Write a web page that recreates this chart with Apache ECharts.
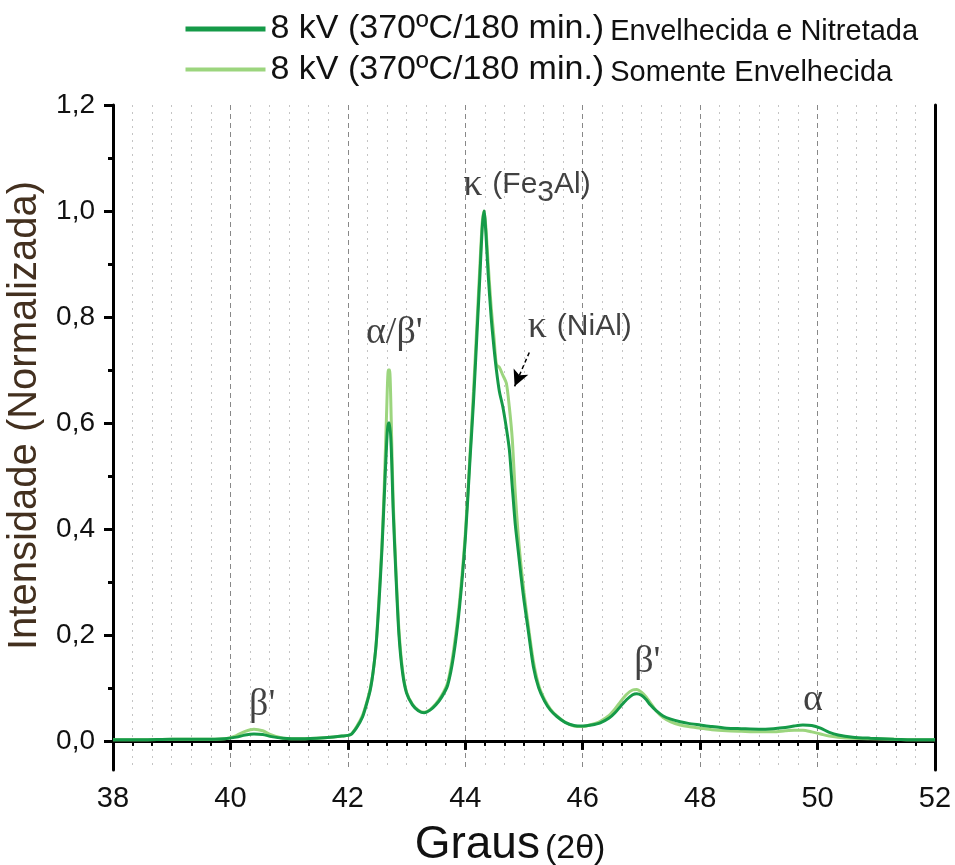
<!DOCTYPE html>
<html>
<head>
<meta charset="utf-8">
<script src="https://cdn.jsdelivr.net/npm/echarts@6/dist/echarts.min.js"></script>
<style>
html,body{margin:0;padding:0;background:#fff;}
#chart{width:955px;height:865px;}
</style>
</head>
<body>
<div id="chart"></div>
<script>
// ---- data ----
const theta = [38.0,38.5,39.0,39.5,39.9,40.1,40.25,40.4,40.55,40.7,40.9,41.2,41.6,41.9,42.05,42.15,42.25,42.32,42.38,42.43,42.48,42.53,42.58,42.62,42.66,42.69,42.71,42.74,42.77,42.82,42.87,42.93,43.0,43.1,43.2,43.3,43.4,43.5,43.6,43.7,43.8,43.9,44.0,44.08,44.14,44.2,44.25,44.29,44.32,44.35,44.39,44.44,44.49,44.53,44.58,44.64,44.70,44.75,44.80,44.85,44.90,44.95,45.0,45.07,45.16,45.25,45.35,45.45,45.56,45.7,45.85,46.0,46.15,46.3,46.45,46.55,46.65,46.75,46.85,46.92,47.0,47.08,47.15,47.25,47.37,47.5,47.66,47.8,48.0,48.2,48.45,48.7,49.0,49.25,49.45,49.6,49.75,49.9,50.05,50.2,50.35,50.6,50.9,51.3,51.7,52.0];
const nitretada = [0.002,0.002,0.003,0.003,0.004,0.007,0.011,0.013,0.012,0.008,0.005,0.004,0.006,0.009,0.012,0.025,0.045,0.07,0.095,0.13,0.18,0.26,0.36,0.46,0.56,0.60,0.60,0.55,0.44,0.31,0.20,0.13,0.09,0.068,0.057,0.053,0.058,0.068,0.083,0.105,0.16,0.25,0.38,0.53,0.64,0.77,0.88,0.97,1.0,0.96,0.88,0.80,0.74,0.70,0.66,0.63,0.59,0.55,0.48,0.41,0.36,0.31,0.265,0.21,0.14,0.10,0.075,0.058,0.046,0.035,0.029,0.028,0.030,0.034,0.043,0.053,0.066,0.078,0.087,0.089,0.086,0.078,0.068,0.057,0.047,0.041,0.036,0.033,0.030,0.027,0.024,0.023,0.022,0.023,0.025,0.028,0.030,0.029,0.024,0.016,0.011,0.007,0.005,0.003,0.002,0.002];
const envelhecida = [0.002,0.002,0.003,0.003,0.004,0.010,0.018,0.022,0.019,0.011,0.005,0.004,0.006,0.009,0.012,0.027,0.048,0.072,0.098,0.13,0.18,0.27,0.37,0.48,0.62,0.70,0.70,0.60,0.46,0.32,0.21,0.135,0.092,0.069,0.058,0.054,0.059,0.070,0.086,0.11,0.17,0.26,0.39,0.54,0.66,0.79,0.90,0.98,1.0,0.97,0.90,0.82,0.76,0.71,0.705,0.69,0.675,0.63,0.57,0.47,0.39,0.33,0.28,0.22,0.15,0.105,0.078,0.06,0.047,0.035,0.028,0.027,0.031,0.037,0.048,0.06,0.075,0.088,0.096,0.097,0.092,0.083,0.072,0.057,0.044,0.036,0.030,0.027,0.024,0.021,0.019,0.018,0.017,0.017,0.019,0.020,0.020,0.017,0.013,0.009,0.007,0.005,0.004,0.003,0.002,0.002];
const seriesNames = ['8 kV (370ºC/180 min.) Envelhecida e Nitretada','8 kV (370ºC/180 min.) Somente Envelhecida'];
const xTicks = [38,40,42,44,46,48,50,52];
const yTicks = [0,0.2,0.4,0.6,0.8,1.0,1.2];
const yMinorTicks = [0.1,0.3,0.5,0.7,0.9,1.1];
const annX = [40.54,42.79,45.05,45.95,47.10,49.92];
const annY = [0.068,0.77,1.049,0.781,0.149,0.077];
const annText = ["{g|β'}","{g|α/β'}","{gs|κ}{s|(Fe}{sub|3}{s|Al)}","{gs|κ}{s|(NiAl)}","{g|β'}","{g|α}"];
const arrowFrom = [45.09,0.733];
const arrowTo = [44.84,0.669];

const DARK = '#159a48';
const LIGHT = '#9cd57e';
const SANS = 'Liberation Sans, Arial, sans-serif';
const SERIF = 'Liberation Serif, Times New Roman, serif';

const pairs = (xs, ys) => xs.map((x, i) => [x, ys[i]]);
const yMin = -0.055, yMax = 1.2;
const fmt = v => v.toFixed(1).replace('.', ',');

const chart = echarts.init(document.getElementById('chart'), null, {renderer: 'canvas'});
const axisLineStyle = {color: '#000', width: 3};

chart.setOption({
  animation: false,
  backgroundColor: '#fff',
  grid: {left: 113, right: 20, top: 105, bottom: 95, containLabel: false, outerBoundsMode: 'none'},
  legend: {
    orient: 'vertical', left: 178, top: 7, itemWidth: 80, itemHeight: 14, itemGap: 6,
    data: [
      {name: seriesNames[0], lineStyle: {width: 5, color: DARK}, itemStyle: {opacity: 0}},
      {name: seriesNames[1], lineStyle: {width: 4, color: LIGHT}, itemStyle: {opacity: 0}}
    ],
    formatter: name => {
      const k = name.indexOf(')') + 1;
      return '{a|' + name.slice(0, k) + '}{b|' + name.slice(k).trim() + '}';
    },
    textStyle: {
      rich: {
        a: {fontFamily: SANS, fontSize: 34, color: '#111', padding: [0, 6, 0, 0]},
        b: {fontFamily: SANS, fontSize: 29, color: '#111', padding: [6, 0, 0, 0]}
      }
    }
  },
  xAxis: [
    {
      type: 'value', min: xTicks[0], max: xTicks[xTicks.length - 1], interval: 2, position: 'bottom',
      axisLine: {lineStyle: axisLineStyle},
      axisTick: {length: 9, lineStyle: {color: '#000', width: 3}},
      minorTick: {show: true, splitNumber: 6, length: 5, lineStyle: {color: '#000', width: 2}},
      splitLine: {show: true, lineStyle: {type: [5, 4], color: '#888', width: 1}},
      minorSplitLine: {show: true, lineStyle: {type: [2, 5], color: '#c4c4c4', width: 1}},
      axisLabel: {fontFamily: SANS, fontSize: 29, color: '#111', margin: 14},
      name: '{a|Graus}{b|(2θ)}', nameLocation: 'middle', nameGap: 52,
      nameTextStyle: {rich: {a: {fontFamily: SANS, fontSize: 46, color: '#111'}, b: {fontFamily: SANS, fontSize: 34, color: '#111', padding: [8, 28, 0, 5]}}}
    },
    {
      type: 'value', min: xTicks[0], max: xTicks[xTicks.length - 1], interval: 2, position: 'top',
      axisLine: {lineStyle: axisLineStyle},
      axisTick: {inside: true, length: 9, lineStyle: {color: '#000', width: 3}},
      minorTick: {show: true, splitNumber: 6, length: 5, lineStyle: {color: '#000', width: 2}},
      splitLine: {show: false}, axisLabel: {show: false}
    }
  ],
  yAxis: [
    {
      type: 'value', min: yMin, max: yMax, position: 'left',
      axisLine: {lineStyle: axisLineStyle},
      axisTick: {length: 9, customValues: yTicks, lineStyle: {color: '#000', width: 3}},
      axisLabel: {customValues: yTicks, formatter: fmt, fontFamily: SANS, fontSize: 28, color: '#111', margin: 18},
      splitLine: {show: false},
      name: 'Intensidade (Normalizada)', nameLocation: 'middle', nameGap: 68,
      nameTextStyle: {fontFamily: SANS, fontSize: 40, color: '#43301f', padding: [0, 0, 0, 44]}
    },
    {
      type: 'value', min: yMin, max: yMax, position: 'left',
      axisLine: {show: false},
      axisTick: {length: 5, customValues: yMinorTicks, lineStyle: {color: '#000', width: 3}},
      axisLabel: {show: false}, splitLine: {show: false}
    },
    {
      type: 'value', min: yMin, max: yMax, position: 'right',
      axisLine: {show: true, lineStyle: axisLineStyle},
      axisTick: {show: false}, axisLabel: {show: false}, splitLine: {show: false}
    }
  ],
  series: [
    {
      name: seriesNames[1], type: 'line', data: pairs(theta, envelhecida),
      showSymbol: false, symbol: 'none', smooth: 0.25, z: 3,
      lineStyle: {color: LIGHT, width: 3}, itemStyle: {color: LIGHT}
    },
    {
      name: seriesNames[0], type: 'line', data: pairs(theta, nitretada),
      showSymbol: false, symbol: 'none', smooth: 0.25, z: 4,
      lineStyle: {color: DARK, width: 3}, itemStyle: {color: DARK},
      markLine: {
        silent: true, symbol: ['none', 'arrow'], symbolSize: [12, 16],
        lineStyle: {color: '#000', type: [4, 3], width: 1.5},
        label: {show: false},
        data: [[{coord: arrowFrom}, {coord: arrowTo}]]
      }
    },
    {
      name: 'annotations', type: 'scatter', symbolSize: 0, silent: true, z: 5,
      data: annX.map((x, i) => ({value: [x, annY[i]], label: {formatter: annText[i]}})),
      label: {
        show: true, position: 'inside', color: '#111',
        rich: {
          g: {fontFamily: SERIF, fontSize: 38, color: '#111'},
          gs: {fontFamily: SERIF, fontSize: 38, color: '#111', padding: [0, 10, 0, 0]},
          s: {fontFamily: SANS, fontSize: 30, color: '#111'},
          sub: {fontFamily: SANS, fontSize: 30, color: '#111', padding: [16, 0, 0, 0]}
        }
      }
    }
  ]
});
</script>
</body>
</html>
